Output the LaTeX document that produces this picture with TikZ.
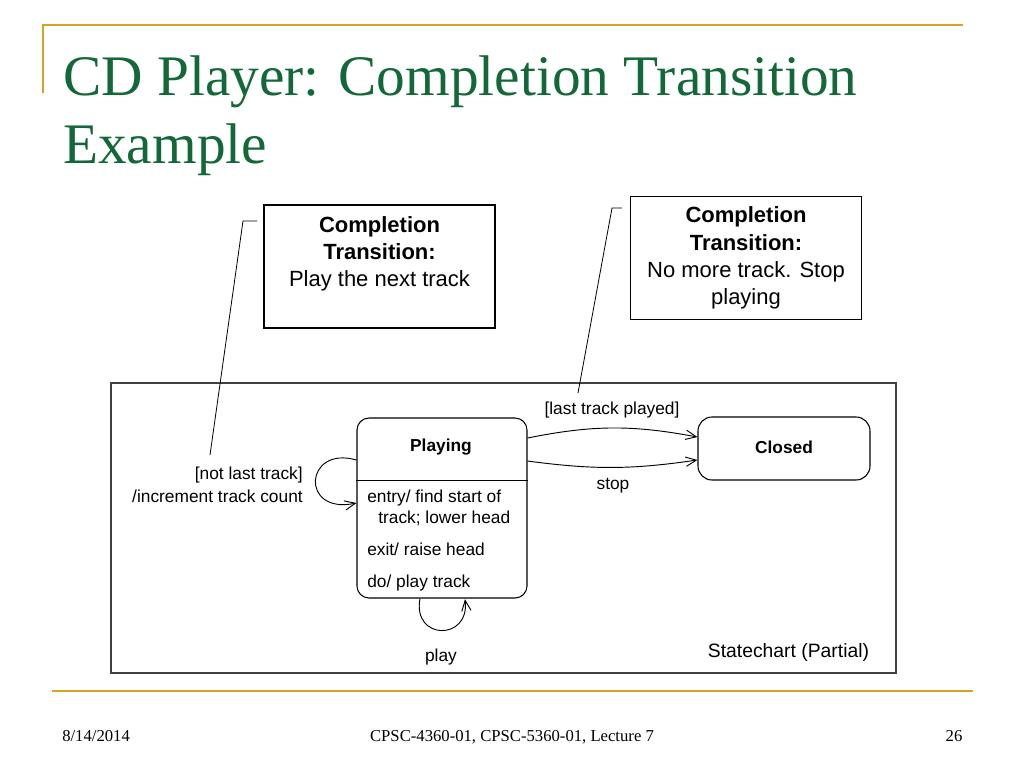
\documentclass[tikz,border=0pt]{standalone}
\usepackage{fontspec}
\setmainfont{Liberation Serif}
\setsansfont{Liberation Sans}
\usetikzlibrary{arrows.meta,calc}
\definecolor{titlegreen}{RGB}{18,104,56}
\definecolor{gold}{RGB}{212,164,32}
\begin{document}
\begin{tikzpicture}[x=0.75pt,y=-0.75pt,
  goldline/.style={draw=gold,line width=2.2pt},
  titletext/.style={text=titlegreen,font=\fontsize{43}{51}\selectfont,inner sep=0pt,anchor=base west},
  foot/.style={font=\fontsize{12.5}{14}\selectfont,inner sep=0pt,anchor=base},
  notebox/.style={draw=black,line width=0.8pt,minimum width=173.25pt,minimum height=92.25pt,inner sep=0pt},
  notetext/.style={font=\sffamily\fontsize{16.5}{20.5}\selectfont,align=center,inner sep=0pt,anchor=north},
  callout/.style={draw=black,line width=0.6pt},
  frame/.style={draw=black!75,line width=1pt,minimum width=588.75pt,minimum height=217.5pt,inner sep=0pt},
  state/.style={draw=black,line width=0.8pt,rounded corners=9pt,inner sep=0pt},
  sttext/.style={font=\sffamily\fontsize{13}{15}\selectfont,inner sep=0pt},
  trans/.style={draw=black,line width=0.7pt,-{Straight Barb[length=8pt,width=7pt]}}]
\useasboundingbox (0,0) rectangle (1024,768);
% slide decoration
\coordinate (tl0) at (963,25);
\coordinate (tl1) at (43,25);
\coordinate (tl2) at (43,93);
\draw[goldline] (tl0) -- (tl1) -- (tl2);
\coordinate (bl0) at (52,691);
\coordinate (bl1) at (973,691);
\draw[goldline] (bl0) -- (bl1);
% title
\node[titletext] (title1) at (63,95) {CD Player: Completion Transition};
\node[titletext] (title2) at (63,163) {Example};
% footer
\node[foot,anchor=base west] (date) at (62,741) {8/14/2014};
\node[foot] (course) at (512,741) {CPSC-4360-01, CPSC-5360-01, Lecture 7};
\node[foot] (page) at (954,741) {26};
% notes
\node[notebox] (noteL) at (379.5,266.5) {};
\node[notetext] (noteLt) at (379.5,216) {\textbf{Completion}\\\textbf{Transition:}\\Play the next track};
\node[notebox] (noteR) at (746,258) {};
\node[notetext] (noteRt) at (746,206.5) {\textbf{Completion}\\\textbf{Transition:}\\No more track. Stop\\playing};
% statechart frame
\node[frame] (frame) at (503.5,528) {};
\node[font=\sffamily\fontsize{14.5}{17}\selectfont,inner sep=0pt,anchor=base] (sclabel) at (788.5,657) {Statechart (Partial)};
% states
\node[state,minimum width=127.5pt,minimum height=135pt] (Playing) at (442,508) {};
\draw[line width=0.8pt] ($(Playing.north west)+(0,63)$) -- ($(Playing.north east)+(0,63)$);
\node[sttext,font=\sffamily\bfseries\fontsize{13}{15}\selectfont] (playingname) at (441,447) {Playing};
\node[sttext,anchor=base west] (entry1) at (367,502) {entry/ find start of};
\node[sttext,anchor=base west] (entry2) at (378,523) {track; lower head};
\node[sttext,anchor=base west] (exitl) at (367,555) {exit/ raise head};
\node[sttext,anchor=base west] (dol) at (367,587) {do/ play track};
\node[state,rounded corners=10.5pt,minimum width=129pt,minimum height=47.25pt] (Closed) at (784,448.5) {};
\node[sttext,font=\sffamily\bfseries\fontsize{13}{15}\selectfont] (closedname) at (784,447) {Closed};
% transitions
\draw[trans] ([yshift=52.5pt]Playing.east) to[bend left=11] ([yshift=8.6pt]Closed.west);
\draw[trans] ([yshift=35.25pt]Playing.east) to[bend right=8] ([yshift=-8.6pt]Closed.west);
\draw[trans] ([yshift=36pt]Playing.west) .. controls +(-52,-15) and +(-57,12) .. ([yshift=3.75pt]Playing.west);
\draw[trans] ([xshift=-16.5pt]Playing.south) .. controls +(-8,42) and +(5,42) .. ([xshift=17.25pt,yshift=-0.5pt]Playing.south);
% transition labels
\node[sttext] (lastlbl) at (612,410) {[last track played]};
\node[sttext] (stoplbl) at (613,486) {stop};
\node[sttext] (playlbl) at (441,657) {play};
\node[sttext,align=right,anchor=east,font=\sffamily\fontsize{13}{17.25}\selectfont] (looplbl) at (303,485) {[not last track]\\/increment track count};
% callout lines
\coordinate (cL0) at (257,221);
\coordinate (cL1) at (243,221);
\coordinate (cL2) at (210,455);
\draw[callout] (cL0) -- (cL1) -- (cL2);
\coordinate (cR0) at (622,208);
\coordinate (cR1) at (612,208);
\coordinate (cR2) at (578,393);
\draw[callout] (cR0) -- (cR1) -- (cR2);
\end{tikzpicture}
\end{document}
